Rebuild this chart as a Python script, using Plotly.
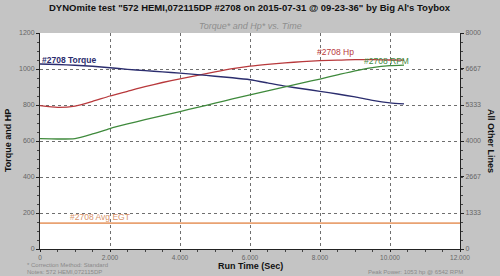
import plotly.graph_objects as go

time_s = [0, 0.5, 1, 1.5, 2, 2.5, 3, 3.5, 4, 4.5, 5, 5.5, 6, 6.5, 7, 7.5, 8, 8.5, 9, 9.5, 10, 10.4]
torque = [1028, 1025, 1021, 1015, 1007, 998, 991, 984, 977, 969, 960, 951, 940, 923, 905, 890, 876, 861, 845, 826, 812, 806]
hp = [796, 787, 794, 820, 850, 876, 902, 925, 945, 964, 984, 1002, 1016, 1026, 1034, 1041, 1046, 1049, 1052, 1052, 1050, 1049]
rpm = [4085, 4075, 4090, 4260, 4460, 4630, 4789, 4937, 5090, 5245, 5400, 5560, 5712, 5860, 6005, 6150, 6296, 6450, 6600, 6720, 6790, 6810]
egt_time = [0, 12]
egt = [960, 960]

x_ticks = [0, 2, 4, 6, 8, 10, 12]
x_tick_text = ["0", "2.000", "4.000", "6.000", "8.000", "10.000", "12.000"]
left_ticks = [0, 200, 400, 600, 800, 1000, 1200]
right_ticks = [0, 1333, 2667, 4000, 5333, 6667, 8000]

FONT = "Liberation Sans, Arial, sans-serif"
NAVY = "#2b2d6e"
RED = "#b8393c"
GREEN = "#3f8a3c"
ORANGE = "#e9a272"

fig = go.Figure()
fig.add_trace(go.Scatter(x=egt_time, y=egt, yaxis="y2", mode="lines",
                         line=dict(color=ORANGE, width=1.6), hoverinfo="skip"))
fig.add_trace(go.Scatter(x=time_s, y=rpm, yaxis="y2", mode="lines", line_shape="spline",
                         line=dict(color=GREEN, width=1.3, smoothing=0.6)))
fig.add_trace(go.Scatter(x=time_s, y=hp, mode="lines", line_shape="spline",
                         line=dict(color=RED, width=1.3, smoothing=0.6)))
fig.add_trace(go.Scatter(x=time_s, y=torque, mode="lines", line_shape="spline",
                         line=dict(color=NAVY, width=1.4, smoothing=0.6)))

grid = dict(showgrid=True, gridcolor="#6f6f6f", griddash="dot", gridwidth=1)

fig.update_layout(
    width=500, height=276,
    margin=dict(l=40, r=40, t=33, b=27),
    paper_bgcolor="#c4c4c4", plot_bgcolor="#ffffff",
    showlegend=False,
    font=dict(family=FONT, size=7, color="#666666"),
    xaxis=dict(range=[0, 12], tickvals=x_ticks, ticktext=x_tick_text, **grid,
               showline=True, linecolor="#222222", mirror=False, ticks="outside",
               ticklen=2, tickcolor="#222222", zeroline=False,
               minor=dict(ticks="outside", ticklen=2, dtick=0.5, tickcolor="#444444"),
               tickfont=dict(size=6.5, color="#666666")),
    yaxis=dict(range=[0, 1200], tickvals=left_ticks, **grid,
               showline=True, linecolor="#222222", ticks="outside", ticklen=3,
               tickcolor="#222222", zeroline=False,
               minor=dict(ticks="outside", ticklen=2, dtick=50, tickcolor="#444444"),
               tickfont=dict(size=7, color="#666666")),
    yaxis2=dict(range=[0, 8000], tickvals=right_ticks, overlaying="y", side="right",
                showgrid=False, showline=True, linecolor="#222222", ticks="outside",
                ticklen=3, tickcolor="#222222", zeroline=False,
                minor=dict(ticks="outside", ticklen=2, dtick=333.33, tickcolor="#444444"),
                tickfont=dict(size=7, color="#666666")),
)

ann = [
    dict(text='<b>DYNOmite test "572 HEMI,072115DP #2708 on 2015-07-31 @ 09-23-36" by Big Al\'s Toybox</b>',
         xref="paper", yref="paper", x=0.5, y=1, yshift=26, xanchor="center", yanchor="middle",
         font=dict(size=9.5, color="#111111"), showarrow=False),
    dict(text="<i>Torque* and Hp* vs. Time</i>", xref="paper", yref="paper", x=0.5, y=1, yshift=7,
         xanchor="center", yanchor="middle", font=dict(size=9, color="#8e8e8e"), showarrow=False),
    dict(text="<b>Torque and HP</b>", xref="paper", yref="paper", x=0, xshift=-32, y=0.5,
         textangle=-90, xanchor="center", yanchor="middle",
         font=dict(size=9, color="#111111"), showarrow=False),
    dict(text="<b>All Other Lines</b>", xref="paper", yref="paper", x=1, xshift=31, y=0.5,
         textangle=90, xanchor="center", yanchor="middle",
         font=dict(size=9, color="#111111"), showarrow=False),
    dict(text="<b>Run Time (Sec)</b>", xref="paper", yref="paper", x=0.5, y=0, yshift=-17,
         xanchor="center", yanchor="middle", font=dict(size=9, color="#111111"), showarrow=False),
    dict(text="* Correction Method: Standard", xref="paper", yref="paper", x=0, xshift=-15, y=0,
         yshift=-16, xanchor="left", yanchor="middle", font=dict(size=6, color="#8a8a8a"),
         showarrow=False),
    dict(text="Notes: 572 HEMI,072115DP", xref="paper", yref="paper", x=0, xshift=-15, y=0,
         yshift=-23, xanchor="left", yanchor="middle", font=dict(size=6, color="#8a8a8a"),
         showarrow=False),
    dict(text="Peak Power: 1053 hp @ 6542 RPM", xref="paper", yref="paper", x=1, xshift=5, y=0,
         yshift=-23, xanchor="right", yanchor="middle", font=dict(size=6, color="#8a8a8a"),
         showarrow=False),
    dict(text="<b>#2708 Torque</b>", x=0, y=1052, xanchor="left", yanchor="middle",
         font=dict(size=8.5, color=NAVY), showarrow=False),
    dict(text="#2708 Hp", x=7.86, y=1096, xanchor="left", yanchor="middle",
         font=dict(size=8.5, color=RED), showarrow=False),
    dict(text="#2708 RPM", x=9.2, y=1046, xanchor="left", yanchor="middle",
         font=dict(size=8.5, color=GREEN), showarrow=False),
    dict(text="#2708 Avg EGT", x=0.8, y=176, xanchor="left", yanchor="middle",
         font=dict(size=8.5, color="#d9936a"), showarrow=False),
]
fig.update_layout(annotations=ann)

fig.write_html("out.html")
